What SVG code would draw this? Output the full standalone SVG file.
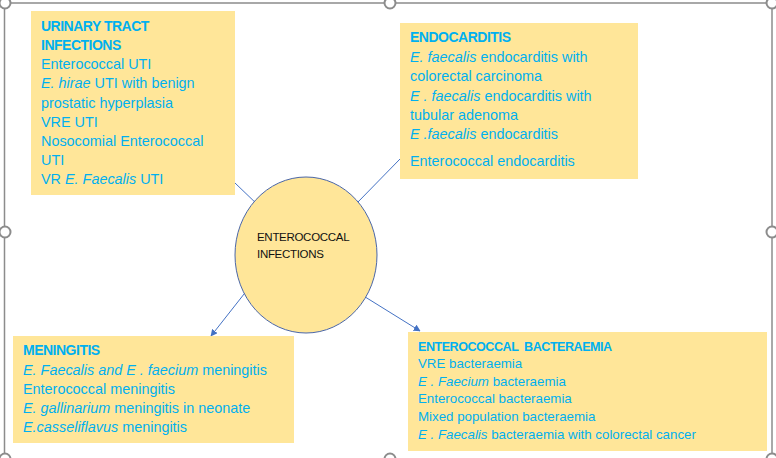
<svg xmlns="http://www.w3.org/2000/svg" width="776" height="458" viewBox="0 0 776 458">
<style>
.frame{fill:none;stroke:#8c8c8c;stroke-width:1.5}
.handle{fill:#fff;stroke:#8c8c8c;stroke-width:2}
.box{fill:#FFE699}
.t{font-family:"Liberation Sans",Arial,sans-serif;font-size:14.4px;fill:#00B0F0}
.s{font-size:13.3px}
.h{font-weight:bold;font-size:14px;letter-spacing:-0.5px}
.hs{font-weight:bold;font-size:12.6px;letter-spacing:-0.5px}
.i{font-style:italic}
.c{font-family:"Liberation Sans",Arial,sans-serif;font-size:11.5px;letter-spacing:-0.3px;fill:#111}
.conn{stroke:#4472C4;stroke-width:1;fill:none}
</style>
<defs>
<marker id="arr" viewBox="0 0 10 10" refX="9" refY="5" markerWidth="7" markerHeight="7" markerUnits="userSpaceOnUse" orient="auto">
<path d="M0,0 L10,5 L0,10 z" fill="#4472C4"/>
</marker>
</defs>
<g id="frame">
<rect class="frame" x="4.5" y="3" width="767.5" height="456"/>
<circle class="handle" cx="5" cy="3" r="5.5"/>
<circle class="handle" cx="390" cy="3" r="5.5"/>
<circle class="handle" cx="772" cy="3" r="5.5"/>
<circle class="handle" cx="5" cy="232" r="5.5"/>
<circle class="handle" cx="772" cy="232" r="5.5"/>
<circle class="handle" cx="5" cy="459" r="5.5"/>
<circle class="handle" cx="390" cy="459" r="5.5"/>
<circle class="handle" cx="772" cy="459" r="5.5"/>
</g>
<g id="connectors">
<line class="conn" x1="235" y1="183" x2="260" y2="207"/>
<line class="conn" x1="400" y1="159" x2="357" y2="203"/>
<line class="conn" x1="248" y1="289" x2="211" y2="336" marker-end="url(#arr)"/>
<line class="conn" x1="362" y1="295" x2="420" y2="331" marker-end="url(#arr)"/>
</g>
<g id="center">
<ellipse cx="306" cy="255" rx="71" ry="78" fill="#FFE699" stroke="#4A66A8" stroke-width="1"/>
<text class="c" x="257" y="241">ENTEROCOCCAL</text>
<text class="c" x="257" y="258">INFECTIONS</text>
</g>
<g id="uti">
<rect class="box" x="31" y="11" width="204" height="184"/>
<text class="t" x="41">
<tspan class="h" x="41" y="31">URINARY TRACT</tspan>
<tspan class="h" x="41" y="50">INFECTIONS</tspan>
<tspan x="41" y="69">Enterococcal UTI</tspan>
<tspan x="41" y="88"><tspan class="i">E. hirae</tspan> UTI with benign</tspan>
<tspan x="41" y="108">prostatic hyperplasia</tspan>
<tspan x="41" y="127">VRE UTI</tspan>
<tspan x="41" y="146">Nosocomial Enterococcal</tspan>
<tspan x="41" y="165">UTI</tspan>
<tspan x="41" y="184">VR <tspan class="i">E. Faecalis</tspan> UTI</tspan>
</text>
</g>
<g id="endocarditis">
<rect class="box" x="400" y="23" width="238" height="156"/>
<text class="t">
<tspan class="h" x="410" y="42">ENDOCARDITIS</tspan>
<tspan x="410" y="62"><tspan class="i">E. faecalis</tspan> endocarditis with</tspan>
<tspan x="410" y="81">colorectal carcinoma</tspan>
<tspan x="410" y="101"><tspan class="i">E . faecalis</tspan> endocarditis with</tspan>
<tspan x="410" y="120">tubular adenoma</tspan>
<tspan x="410" y="139"><tspan class="i">E .faecalis</tspan> endocarditis</tspan>
<tspan x="410" y="166">Enterococcal endocarditis</tspan>
</text>
</g>
<g id="meningitis">
<rect class="box" x="13" y="336" width="281" height="107"/>
<text class="t">
<tspan class="h" x="23" y="355">MENINGITIS</tspan>
<tspan x="23" y="375"><tspan class="i">E. Faecalis and E . faecium</tspan> meningitis</tspan>
<tspan x="23" y="394">Enterococcal meningitis</tspan>
<tspan x="23" y="413"><tspan class="i">E. gallinarium</tspan> meningitis in neonate</tspan>
<tspan x="23" y="432"><tspan class="i">E.casseliflavus</tspan> meningitis</tspan>
</text>
</g>
<g id="bacteraemia">
<rect class="box" x="408" y="332" width="359" height="119"/>
<text class="t s">
<tspan class="hs" x="418" y="351" xml:space="preserve">ENTEROCOCCAL  BACTERAEMIA</tspan>
<tspan x="418" y="368">VRE bacteraemia</tspan>
<tspan x="418" y="386"><tspan class="i">E . Faecium</tspan> bacteraemia</tspan>
<tspan x="418" y="403">Enterococcal bacteraemia</tspan>
<tspan x="418" y="421">Mixed population bacteraemia</tspan>
<tspan x="418" y="439"><tspan class="i">E . Faecalis</tspan> bacteraemia with colorectal cancer</tspan>
</text>
</g>
</svg>
